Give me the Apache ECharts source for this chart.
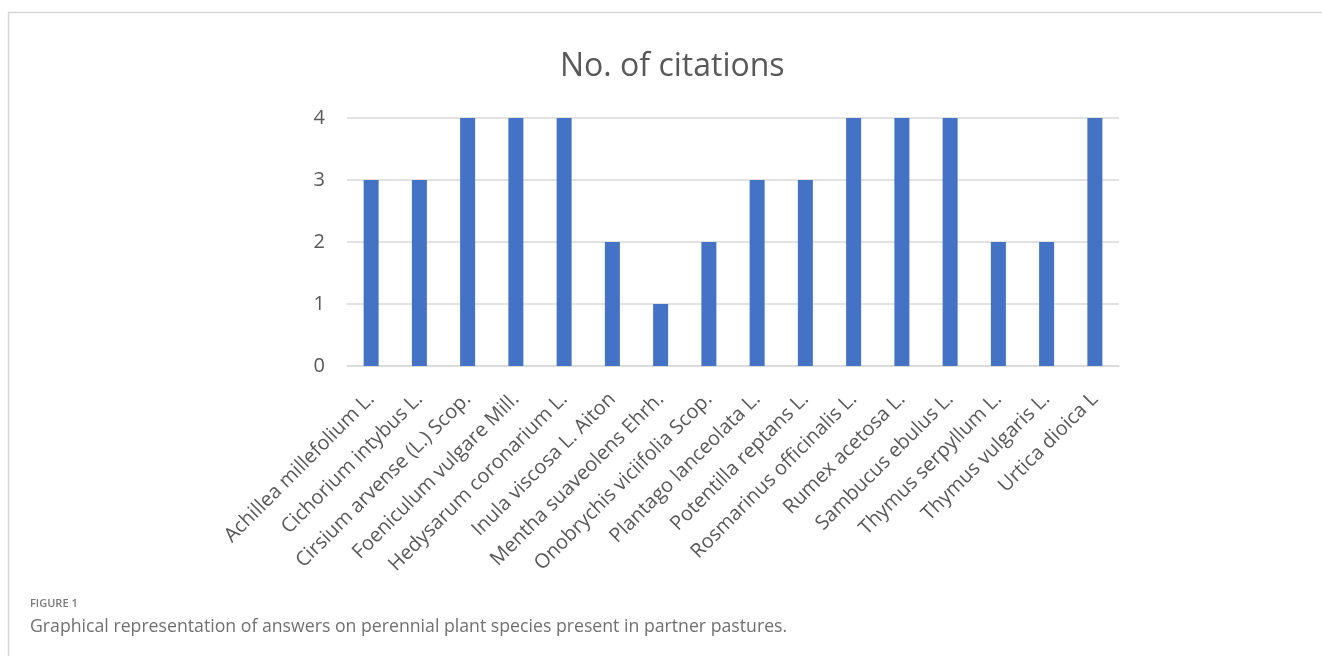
<!DOCTYPE html>
<html>
<head>
<meta charset="utf-8">
<script src="https://cdn.jsdelivr.net/npm/echarts@6/dist/echarts.min.js"></script>
<style>
    html, body { margin: 0; padding: 0; background: #fff; }
    #chart { width: 1322px; height: 656px; }
</style>
</head>
<body>
<div id="chart"></div>
<script>
    // species names and number of citations
    var species = [
        'Achillea millefolium L.', 'Cichorium intybus L.', 'Cirsium arvense (L.) Scop.',
        'Foeniculum vulgare Mill.', 'Hedysarum coronarium L.', 'Inula viscosa L. Aiton',
        'Mentha suaveolens Ehrh.', 'Onobrychis viciifolia Scop.', 'Plantago lanceolata L.',
        'Potentilla reptans L.', 'Rosmarinus officinalis L.', 'Rumex acetosa L.',
        'Sambucus ebulus L.', 'Thymus serpyllum L.', 'Thymus vulgaris L.', 'Urtica dioica L'
    ];
    var citations = [3, 3, 4, 4, 4, 2, 1, 2, 3, 3, 4, 4, 4, 2, 2, 4];
    var yTicks = [0, 1, 2, 3, 4];

    var chart = echarts.init(document.getElementById('chart'));
    var font = '"Open Sans", sans-serif';

    chart.setOption({
        backgroundColor: '#fff',
        animation: false,
        title: {
            text: 'No. of citations',
            left: 555,
            top: 46,
            textStyle: { fontFamily: font, fontSize: 32, fontWeight: 'normal', color: '#595959' }
        },
        grid: { left: 347, right: 203, top: 118, bottom: 290 },
        xAxis: {
            type: 'category',
            data: species,
            axisLine: { lineStyle: { color: '#d9d9d9', width: 1.5 } },
            axisTick: { show: false },
            axisLabel: {
                rotate: 45,
                interval: 0,
                margin: 30,
                fontFamily: font,
                fontSize: 20,
                color: '#595959'
            }
        },
        yAxis: {
            type: 'value',
            min: yTicks[0],
            max: yTicks[yTicks.length - 1],
            interval: 1,
            axisLine: { show: false },
            axisTick: { show: false },
            splitLine: { lineStyle: { color: '#d9d9d9', width: 1.5 } },
            axisLabel: { fontFamily: font, fontSize: 20, color: '#595959', margin: 22 }
        },
        series: [{
            type: 'bar',
            data: citations,
            barWidth: 15,
            itemStyle: { color: '#4472c4' }
        }],
        graphic: [
            {
                type: 'polyline',
                shape: { points: [[8.5, 656], [8.5, 12.5], [1322, 12.5]] },
                style: { stroke: '#d6d6d6', lineWidth: 1.5, fill: null }
            },
            {
                type: 'text', left: 30, top: 598,
                style: { text: 'FIGURE 1', font: '600 11px "Open Sans", sans-serif', fill: '#7a7a7a' }
            },
            {
                type: 'text', left: 30, top: 618,
                style: {
                    text: 'Graphical representation of answers on perennial plant species present in partner pastures.',
                    font: '17.7px "Open Sans", sans-serif', fill: '#707070'
                }
            }
        ]
    });
</script>
</body>
</html>
